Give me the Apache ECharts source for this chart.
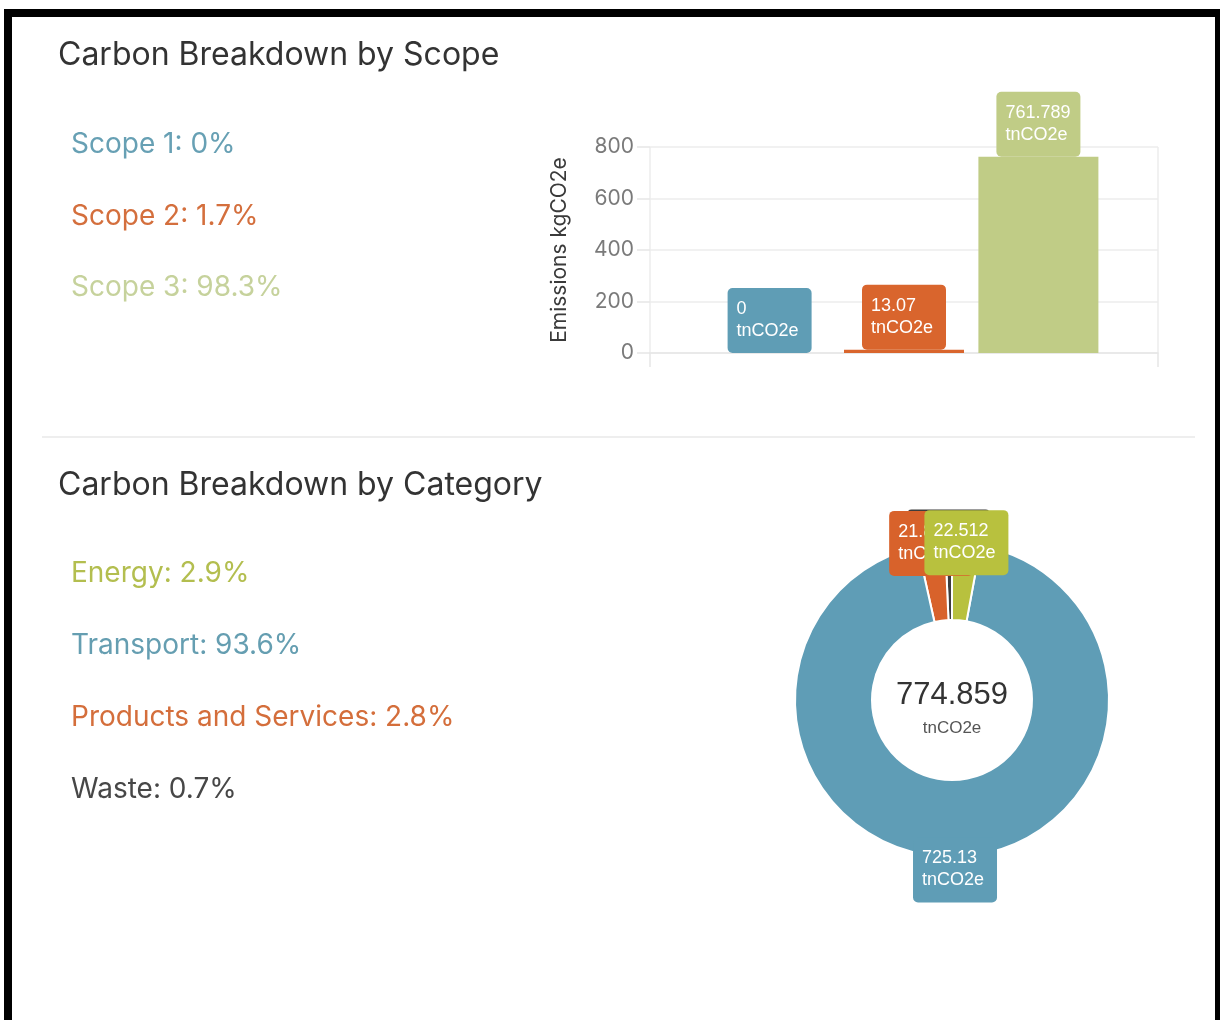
<!DOCTYPE html>
<html>
<head>
<meta charset="utf-8">
<title>Carbon Breakdown</title>
<script src="https://cdn.jsdelivr.net/npm/echarts@6/dist/echarts.min.js"></script>
<style>
html,body{margin:0;padding:0;background:#fff;width:1220px;height:1020px;overflow:hidden;}
#frame{position:absolute;left:4px;top:9px;width:1203px;height:1040px;border-left:8px solid #000;border-top:8px solid #000;border-right:8px solid #000;box-sizing:content-box;}
#chart{position:absolute;left:0;top:0;width:1220px;height:1020px;z-index:2;}
</style>
</head>
<body>
<div id="frame"></div>
<div id="chart"></div>
<script>
// ---- data ----
const scopeNames = ['Scope 1', 'Scope 2', 'Scope 3'];
const scopeValues = [0, 13.07, 761.789];
const categoryNames = ['Energy', 'Transport', 'Products and Services', 'Waste'];
const categoryValues = [22.512, 725.13, 21.817, 5.4];
const yTicks = [0, 200, 400, 600, 800];
const unit = 'tnCO2e';
const yAxisName = 'Emissions kgCO2e';
const scopeTitle = 'Carbon Breakdown by Scope';
const categoryTitle = 'Carbon Breakdown by Category';

// ---- styles ----
const scopeColors = ['#5f9db5', '#d9652d', '#c0cc86'];
const scopeTextColors = ['#67a0b4', '#d46f3d', '#c6d29c'];
const categoryColors = ['#b8c13e', '#5f9db6', '#d8622b', '#3d3d3d'];
const categoryTextColors = ['#b3be4f', '#659eb1', '#d46e3b', '#474747'];

const chart = echarts.init(document.getElementById('chart'), null, {renderer: 'canvas'});

function pct(v, arr) {
  const s = arr.reduce((a, b) => a + b, 0);
  return Number((v / s * 100).toFixed(1)) + '%';
}

const labelRich = {
  v: {width: 66, align: 'left', fontSize: 18, lineHeight: 22, color: '#fff', fontFamily: 'Liberation Sans, Arial, sans-serif'}
};
function valueLabel(p) {
  return '{v|' + p.value + '}\n{v|' + unit + '}';
}

// bar series
const barSeries = scopeNames.map((n, i) => ({
  type: 'bar',
  name: n,
  data: [scopeValues[i]],
  barWidth: 120,
  barGap: '12%',
  itemStyle: {color: scopeColors[i]},
  emphasis: {disabled: true},
  label: {
    show: true,
    position: 'top',
    distance: 0,
    formatter: valueLabel,
    backgroundColor: scopeColors[i],
    borderRadius: 5,
    padding: [10, 9, 11, 9],
    rich: labelRich
  }
}));

// pie data (drawn counter-clockwise in reverse order so the layout matches)
const order = [3, 2, 1, 0];
const pieData = order.map(i => ({
  name: categoryNames[i],
  value: categoryValues[i],
  itemStyle: {color: categoryColors[i]}
}));
const pieLabelData = order.map(i => ({
  name: categoryNames[i],
  value: categoryValues[i],
  itemStyle: {color: 'rgba(0,0,0,0)'},
  label: {
    backgroundColor: categoryColors[i],
    offset: categoryNames[i] === 'Transport' ? [0, 12] : [0, 0]
  }
}));
const total = categoryValues.reduce((a, b) => a + b, 0);

// text graphics
const graphics = [];
function addText(x, y, text, font, fill, align) {
  graphics.push({
    type: 'text', x: x, y: y, silent: true,
    style: {text: text, font: font, fill: fill, align: align || 'left', verticalAlign: 'middle',
            textAlign: align || 'left', textVerticalAlign: 'middle'}
  });
}
addText(58, 55, scopeTitle, '32px Inter', '#333333');
scopeNames.forEach((n, i) => addText(71, 145 + i * 71.5, n + ': ' + pct(scopeValues[i], scopeValues), '28px Inter', scopeTextColors[i]));
graphics.push({type: 'line', silent: true, shape: {x1: 42, y1: 437, x2: 1195, y2: 437}, style: {stroke: '#e9e9e9', lineWidth: 1.5}});
addText(58, 485, categoryTitle, '32px Inter', '#333333');
categoryNames.forEach((n, i) => addText(71, 574 + i * 71.7, n + ': ' + pct(categoryValues[i], categoryValues), '28px Inter', categoryTextColors[i]));
addText(952, 695, total.toFixed(3), '31px Liberation Sans', '#333333', 'center');
addText(952, 728, unit, '17px Liberation Sans', '#555555', 'center');

const option = {
  animation: false,
  grid: {left: 650, top: 147, width: 508, height: 206},
  xAxis: {
    type: 'category',
    data: [''],
    axisLine: {show: true, lineStyle: {color: '#e6e6e6', width: 1.5}},
    axisTick: {show: true, length: 14, lineStyle: {color: '#e6e6e6', width: 1.5}},
    axisLabel: {show: false},
    splitLine: {show: true, lineStyle: {color: '#ececec', width: 1.5}}
  },
  yAxis: {
    type: 'value',
    min: yTicks[0],
    max: yTicks[yTicks.length - 1],
    interval: yTicks[1] - yTicks[0],
    name: yAxisName,
    nameLocation: 'middle',
    nameGap: 80,
    nameTextStyle: {color: '#3a3a3a', fontSize: 21, fontFamily: 'Inter'},
    axisLine: {show: false},
    axisTick: {show: true, length: 13, lineStyle: {color: '#e6e6e6', width: 1.5}},
    axisLabel: {color: '#7a7a7a', fontSize: 21, fontFamily: 'Inter', margin: 16},
    splitLine: {lineStyle: {color: '#ececec', width: 1.5}}
  },
  series: barSeries.concat([
    {
      type: 'pie',
      center: [952, 700],
      radius: [80, 157],
      clockwise: false,
      startAngle: 90,
      avoidLabelOverlap: false,
      silent: true,
      label: {show: false},
      labelLine: {show: false},
      itemStyle: {borderColor: '#ffffff', borderWidth: 2},
      data: pieData
    },
    {
      type: 'pie',
      center: [952, 700],
      radius: [150, 160],
      clockwise: false,
      startAngle: 90,
      avoidLabelOverlap: false,
      silent: true,
      labelLine: {show: false},
      labelLayout: {hideOverlap: false},
      label: {
        show: true,
        position: 'inside',
        formatter: valueLabel,
        borderRadius: 5,
        padding: [10, 9, 11, 9],
        rich: labelRich
      },
      data: pieLabelData
    }
  ]),
  graphic: graphics
};
chart.setOption(option);
</script>
</body>
</html>
